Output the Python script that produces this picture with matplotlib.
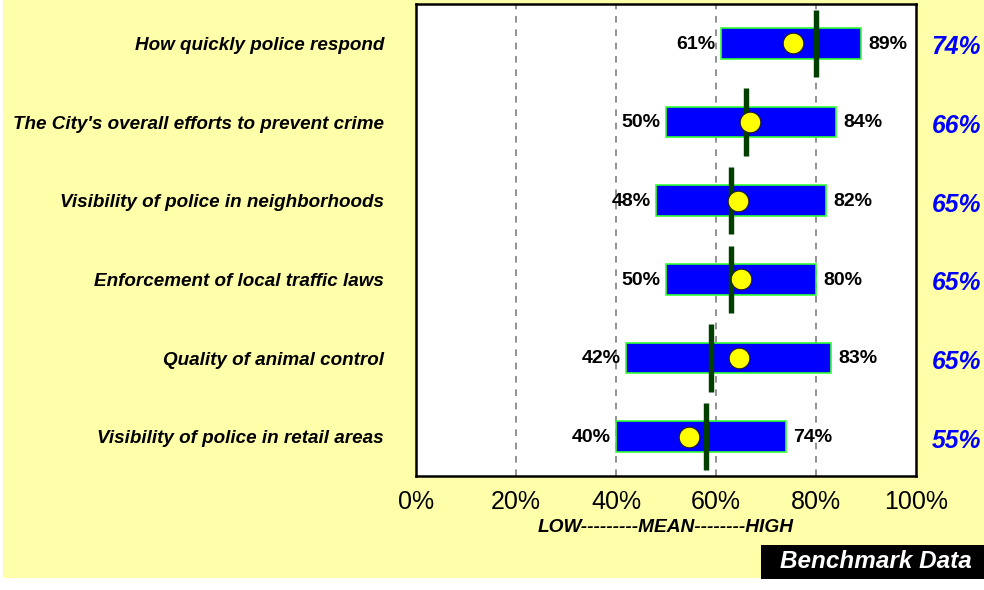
import matplotlib.pyplot as plt
from matplotlib.patches import Rectangle

categories = ['How quickly police respond',
              "The City's overall efforts to prevent crime",
              'Visibility of police in neighborhoods',
              'Enforcement of local traffic laws',
              'Quality of animal control',
              'Visibility of police in retail areas']
low = [61, 50, 48, 50, 42, 40]
high = [89, 84, 82, 80, 83, 74]
mean = [80, 66, 63, 63, 59, 58]
city = [75.3, 66.7, 64.3, 65, 64.5, 54.6]
city_labels = ['74%', '66%', '65%', '65%', '65%', '55%']

plt.rcParams['font.family'] = ['Liberation Sans', 'DejaVu Sans']

fig = plt.figure(figsize=(9.84, 5.9), dpi=100)
fig.patch.set_facecolor('white')
# yellow panel behind everything
fig.patches.append(Rectangle((3 / 984, 12 / 590), 981 / 984, 578 / 590,
                             transform=fig.transFigure, facecolor='#FFFFAA',
                             edgecolor='none', zorder=-5))
# black box for the footer
fig.patches.append(Rectangle((761 / 984, 11 / 590), 223 / 984, 34 / 590,
                             transform=fig.transFigure, facecolor='black',
                             edgecolor='none', zorder=-4))

ax = fig.add_axes([416 / 984, 114 / 590, 500 / 984, 472 / 590])
ax.set_facecolor('white')

y = list(range(len(categories)))
ax.barh(y, [h - l for h, l in zip(high, low)], left=low, height=0.39,
        color='#0000FF', edgecolor='#33FF33', linewidth=1.2, zorder=3)
for i in y:
    ax.plot([mean[i], mean[i]], [i - 0.43, i + 0.43], color='#003F00',
            linewidth=3.9, solid_capstyle='butt', zorder=4)
ax.scatter(city, y, s=220, color='#FFFF00', edgecolor='#222222',
           linewidth=0.8, zorder=5)

for i in y:
    ax.annotate(f'{low[i]}%', (low[i], i), xytext=(-4, -0.5),
                textcoords='offset points', ha='right', va='center',
                fontsize=14, fontweight='bold', zorder=6)
    ax.annotate(f'{high[i]}%', (high[i], i), xytext=(5, -0.5),
                textcoords='offset points', ha='left', va='center',
                fontsize=14, fontweight='bold', zorder=6)
    ax.annotate(categories[i], (0, i), xytext=(-23, -1.5),
                textcoords='offset points', ha='right', va='center',
                fontsize=13.6, fontweight='bold', fontstyle='italic',
                annotation_clip=False)
    ax.annotate(city_labels[i], (100, i), xytext=(29, -3),
                textcoords='offset points', ha='center', va='center',
                fontsize=17.8, fontweight='bold', fontstyle='italic',
                color='#0000FF', annotation_clip=False)

ax.set_xlim(0, 100)
ax.set_ylim(5.5, -0.5)
ax.set_xticks([0, 20, 40, 60, 80, 100])
ax.set_xticklabels(['0%', '20%', '40%', '60%', '80%', '100%'], fontsize=18)
ax.set_yticks([])
ax.tick_params(axis='x', length=0, pad=10)
for x in [20, 40, 60, 80]:
    ax.axvline(x, color='#808080', linestyle=(0, (4, 4)), linewidth=1.2,
               zorder=1)
for s in ax.spines.values():
    s.set_linewidth(1.8)
    s.set_color('black')

ax.set_xlabel('LOW---------MEAN--------HIGH', fontsize=13.8,
              fontweight='bold', fontstyle='italic', labelpad=4)

fig.text(876 / 984, 1 - 562 / 590, 'Benchmark Data', ha='center',
         va='center', fontsize=17.5, fontweight='bold', fontstyle='italic',
         color='white')

fig.savefig('out.png', dpi=100, facecolor=fig.get_facecolor())
